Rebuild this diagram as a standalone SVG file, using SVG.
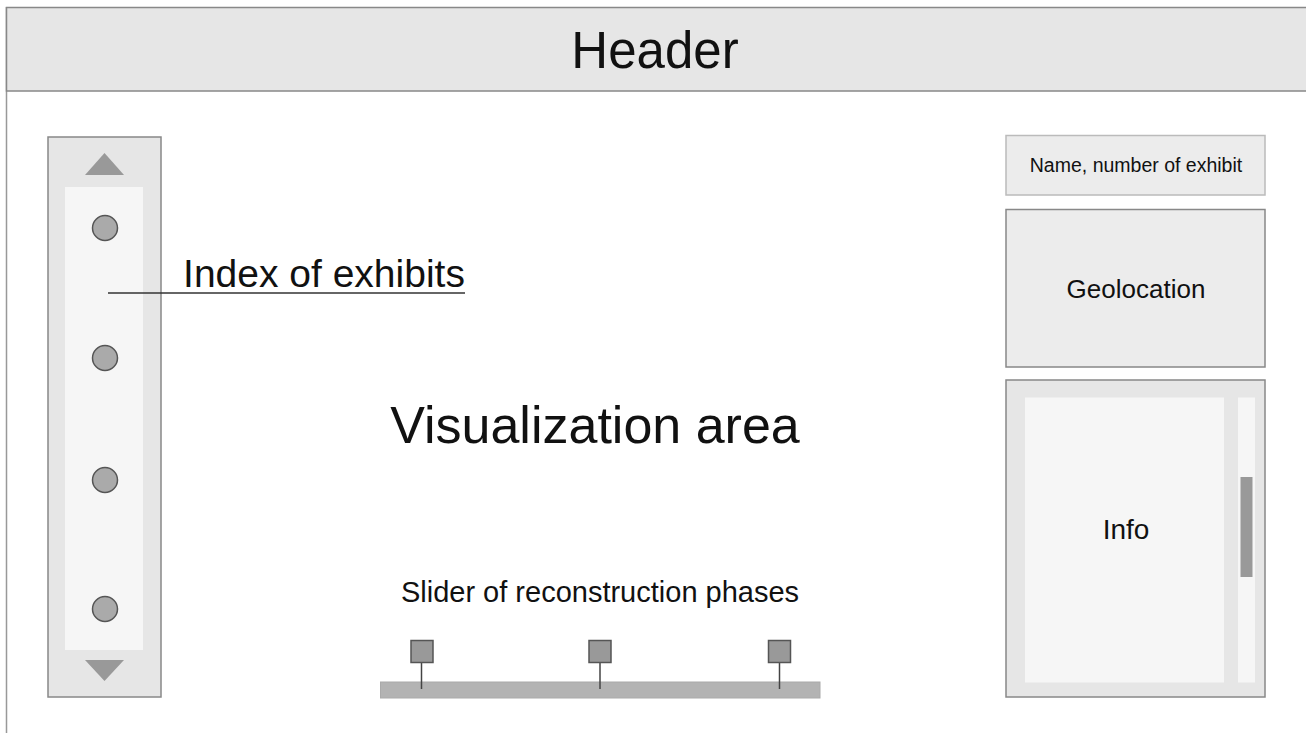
<svg xmlns="http://www.w3.org/2000/svg" width="1306" height="733" viewBox="0 0 1306 733">
<style>
text{font-family:"Liberation Sans",Arial,sans-serif;fill:#111;text-anchor:middle}
.panel{fill:#e6e6e6;stroke:#888;stroke-width:1.5}
.inner{fill:#f6f6f6}
.dot{fill:#aaa;stroke:#555;stroke-width:1.5}
.tri{fill:#999}
.knob{fill:#999;stroke:#555;stroke-width:1.5}
.stem{stroke:#444;stroke-width:1.5}
</style>
<rect width="1306" height="733" fill="#fff"/>
<g id="frame">
<line x1="6.5" y1="7" x2="6.5" y2="733" stroke="#999" stroke-width="1.5"/>
</g>
<g id="header">
<rect x="6.5" y="7.5" width="1305" height="83.5" fill="#e6e6e6" stroke="#888" stroke-width="1.5"/>
<text x="655" y="68" font-size="51">Header</text>
</g>
<g id="index-panel">
<rect class="panel" x="48" y="137" width="113" height="560"/>
<rect class="inner" x="65" y="187" width="78" height="463"/>
<polygon class="tri" points="85,175 124,175 104.5,153"/>
<polygon class="tri" points="85,660 124,660 104.5,681"/>
<circle class="dot" cx="105" cy="228" r="12.5"/>
<circle class="dot" cx="105" cy="358" r="12.5"/>
<circle class="dot" cx="105" cy="480" r="12.5"/>
<circle class="dot" cx="105" cy="609" r="12.5"/>
</g>
<g id="index-label">
<text x="324" y="287" font-size="39">Index of exhibits</text>
</g>
<g id="connectors">
<line x1="108" y1="293" x2="465" y2="293" stroke="#333" stroke-width="1.5"/>
</g>
<g id="visualization">
<text x="595" y="443" font-size="52">Visualization area</text>
</g>
<g id="slider">
<text x="600" y="602" font-size="29">Slider of reconstruction phases</text>
<rect x="380.5" y="682" width="439.5" height="16" fill="#b3b3b3" stroke="#aaa" stroke-width="1"/>
<line class="stem" x1="421.5" y1="663" x2="421.5" y2="689"/>
<line class="stem" x1="600" y1="663" x2="600" y2="689"/>
<line class="stem" x1="779.5" y1="663" x2="779.5" y2="689"/>
<rect class="knob" x="411" y="640.5" width="22" height="22"/>
<rect class="knob" x="589" y="640.5" width="22" height="22"/>
<rect class="knob" x="768.5" y="640.5" width="22" height="22"/>
</g>
<g id="name-box">
<rect x="1006" y="135.5" width="259" height="59.5" fill="#ececec" stroke="#bbb" stroke-width="1.5"/>
<text x="1136" y="172" font-size="19.5">Name, number of exhibit</text>
</g>
<g id="geolocation">
<rect x="1006" y="209.5" width="259" height="157.5" fill="#ececec" stroke="#888" stroke-width="1.5"/>
<text x="1136" y="298" font-size="26">Geolocation</text>
</g>
<g id="info">
<rect class="panel" x="1006" y="380" width="259" height="317"/>
<rect class="inner" x="1025" y="397.5" width="199" height="285"/>
<rect class="inner" x="1238" y="397.5" width="17" height="285"/>
<rect x="1240.5" y="477" width="12" height="100" fill="#999"/>
<text x="1126" y="539" font-size="28">Info</text>
</g>
</svg>
